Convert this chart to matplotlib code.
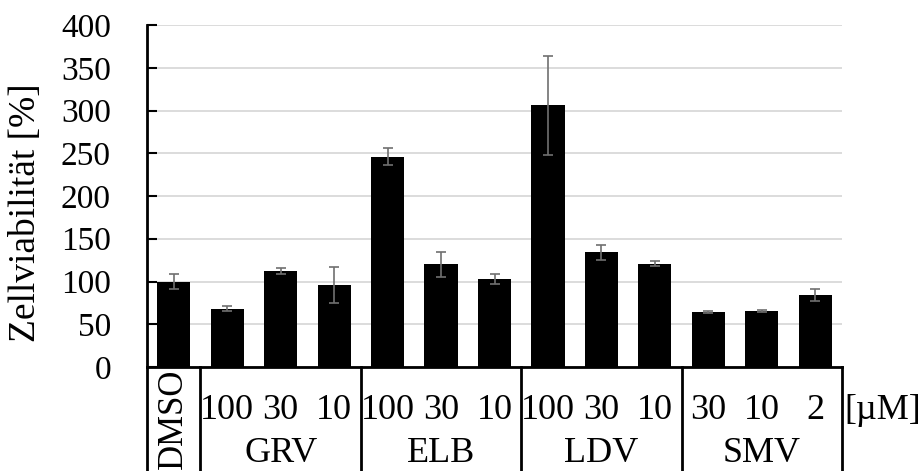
import matplotlib
matplotlib.use('Agg')
import matplotlib.pyplot as plt
import matplotlib.transforms as mtransforms
import numpy as np

plt.rcParams['font.family'] = ['Liberation Serif', 'DejaVu Serif']

# --- data ---
conc_labels = ['DMSO', '100', '30', '10', '100', '30', '10', '100', '30', '10', '30', '10', '2']
groups = ['GRV', 'ELB', 'LDV', 'SMV']
viability = [100, 68, 112, 96, 246, 120, 103, 306, 134, 121, 64, 65.5, 84]
viability_err = [9, 3, 3.5, 21, 10, 15, 6, 58, 9, 2.5, 1, 1, 7]
yticks = [0, 50, 100, 150, 200, 250, 300, 350, 400]

fig = plt.figure(figsize=(9.22, 4.71), dpi=100)
ax = fig.add_axes([147 / 922, 104 / 471, 695 / 922, 342 / 471])

x = np.arange(len(viability))
ax.bar(x, viability, width=0.62, color='black', zorder=3)
ax.errorbar(x, viability, yerr=viability_err, fmt='none', ecolor='#707070',
            elinewidth=1.2, capsize=3.5, capthick=1.2, zorder=4)

ax.set_xlim(-0.5, len(viability) - 0.5)
ax.set_ylim(0, 400)
ax.set_yticks(yticks)
ax.set_xticks([])
ax.grid(axis='y', color='#d9d9d9', linewidth=1.3, zorder=0)
ax.tick_params(axis='y', direction='in', length=7, width=1.5, pad=26, labelsize=24)

for s in ['top', 'right']:
    ax.spines[s].set_visible(False)
ax.spines['left'].set_linewidth(2)
ax.spines['bottom'].set_linewidth(2)

ax.set_ylabel('Zellviabilität [%]', fontsize=27)
ax.yaxis.set_label_coords(-0.150, 0.45)

# multi-level category axis below the plot
trans = mtransforms.blended_transform_factory(ax.transData, ax.transAxes)
bottom = -0.32
for b in [-0.5, 0.5, 3.5, 6.5, 9.5, 12.5]:
    ax.plot([b, b], [0, bottom], transform=trans, color='black', lw=2, clip_on=False)

ax.text(0, -0.006, conc_labels[0], transform=trans, rotation=90, ha='center', va='top',
        fontsize=25)
for i in range(1, len(conc_labels)):
    ax.text(x[i], -0.128, conc_labels[i], transform=trans, ha='center', va='center',
            fontsize=26)
for g, name in enumerate(groups):
    ax.text(2 + 3 * g, -0.252, name, transform=trans, ha='center', va='center', fontsize=26)
ax.text(1.004, -0.128, '[µM]', transform=ax.transAxes, ha='left', va='center', fontsize=26)

fig.savefig('out.png', dpi=100)
